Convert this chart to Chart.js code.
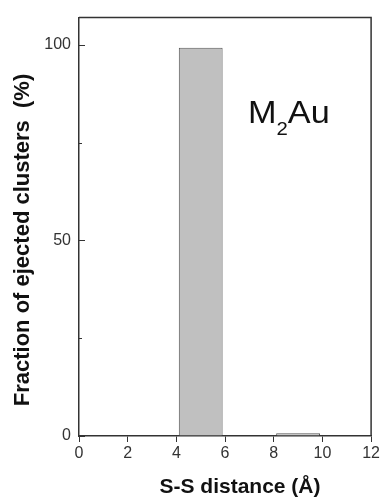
<!DOCTYPE html>
<html>
<head>
<meta charset="utf-8">
<script src="https://cdn.jsdelivr.net/npm/chart.js@4"></script>
<style>
  html, body { margin: 0; padding: 0; background: #fff; }
  #wrap { width: 382px; height: 498px; }
</style>
</head>
<body>
<div id="wrap"><canvas id="graph_chart" width="382" height="498"></canvas></div>
<script>
// histogram bins (S-S distance, Å) and fraction of ejected clusters (%)
const binCenters = [1, 3, 5, 7, 9, 11];
const fractions = [0, 0, 99.3, 0, 0.7, 0];
const xTicks = [0, 2, 4, 6, 8, 10, 12];
const yTicks = [0, 50, 100];
const yMinorTicks = [25, 75];

const axisColor = '#333';
const font = 'Liberation Sans, Arial, sans-serif';

const frame = {
  id: 'frame',
  afterDraw(chart) {
    const ctx = chart.ctx;
    const a = chart.chartArea;
    const y = chart.scales.y;
    ctx.save();
    ctx.strokeStyle = axisColor;
    ctx.lineWidth = 1.5;
    // top and right sides of the box
    ctx.beginPath();
    ctx.moveTo(a.left, a.top);
    ctx.lineTo(a.right, a.top);
    ctx.lineTo(a.right, a.bottom);
    ctx.stroke();
    // inward y ticks
    ctx.lineWidth = 1;
    yTicks.forEach(v => {
      const py = Math.round(y.getPixelForValue(v)) + 0.5;
      ctx.beginPath();
      ctx.moveTo(a.left, py);
      ctx.lineTo(a.left + 6, py);
      ctx.stroke();
    });
    yMinorTicks.forEach(v => {
      const py = Math.round(y.getPixelForValue(v)) + 0.5;
      ctx.beginPath();
      ctx.moveTo(a.left, py);
      ctx.lineTo(a.left + 3, py);
      ctx.stroke();
    });
    // axis titles
    ctx.fillStyle = '#111';
    ctx.textAlign = 'center';
    ctx.textBaseline = 'middle';
    ctx.font = 'bold 21px ' + font;
    ctx.fillText('S-S distance (\u00C5)', 240, 487);
    ctx.save();
    ctx.translate(23, 240);
    ctx.rotate(-Math.PI / 2);
    ctx.font = 'bold 22px ' + font;
    ctx.fillText('Fraction of ejected clusters  (%)', 0, 0);
    ctx.restore();
    // label inside the plot
    ctx.save();
    ctx.translate(248, 123);
    ctx.scale(1.07, 1);
    ctx.textAlign = 'left';
    ctx.textBaseline = 'alphabetic';
    ctx.font = '32px ' + font;
    ctx.fillText('M', 0, 0);
    const mw = ctx.measureText('M').width;
    ctx.font = '19px ' + font;
    ctx.fillText('2', mw, 12);
    const sw = ctx.measureText('2').width;
    ctx.font = '32px ' + font;
    ctx.fillText('Au', mw + sw, 0);
    ctx.restore();
    ctx.restore();
  }
};

new Chart(document.getElementById('graph_chart'), {
  type: 'bar',
  data: {
    datasets: [{
      data: binCenters.map((x, i) => ({ x: x, y: fractions[i] })),
      backgroundColor: '#c0c0c0',
      borderColor: '#555',
      borderWidth: 1,
      barPercentage: 0.9,
      categoryPercentage: 1.0
    }]
  },
  options: {
    responsive: false,
    animation: false,
    layout: { padding: { top: 15, right: 10, left: 0, bottom: 0 } },
    plugins: {
      legend: { display: false },
      tooltip: { enabled: false }
    },
    scales: {
      x: {
        type: 'linear',
        min: 0,
        max: 12,
        offset: false,
        afterFit: s => { s.height = 62; },
        afterBuildTicks: s => { s.ticks = xTicks.map(v => ({ value: v })); },
        border: { color: axisColor, width: 1.5 },
        grid: { offset: false, drawOnChartArea: false, drawTicks: true, tickLength: 6, color: axisColor, lineWidth: 1 },
        ticks: { color: '#333', padding: 2, maxRotation: 0, font: { family: font, size: 16 } }
      },
      y: {
        min: 0,
        max: 107,
        afterFit: s => { s.width = 79; },
        afterBuildTicks: s => { s.ticks = yTicks.map(v => ({ value: v })); },
        border: { color: axisColor, width: 1.5 },
        grid: { drawOnChartArea: false, drawTicks: false },
        ticks: { color: '#333', padding: 8, font: { family: font, size: 16 } }
      }
    }
  },
  plugins: [frame]
});
</script>
</body>
</html>
